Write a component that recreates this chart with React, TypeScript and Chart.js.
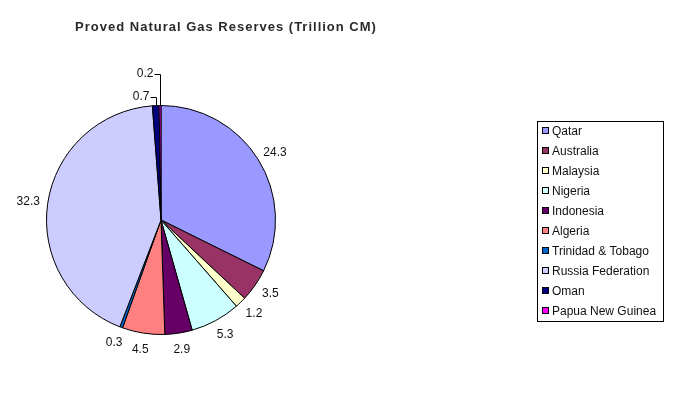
import React, { useEffect, useRef } from "react";
import { Chart, registerables } from "chart.js";

Chart.register(...registerables);

const categories = [
  "Qatar",
  "Australia",
  "Malaysia",
  "Nigeria",
  "Indonesia",
  "Algeria",
  "Trinidad & Tobago",
  "Russia Federation",
  "Oman",
  "Papua New Guinea",
];
const reserves = [24.3, 3.5, 1.2, 5.3, 2.9, 4.5, 0.3, 32.3, 0.7, 0.2];
const valueLabels = ["24.3", "3.5", "1.2", "5.3", "2.9", "4.5", "0.3", "32.3", "0.7", "0.2"];
const colors = [
  "#9999FF",
  "#993366",
  "#FFFFCC",
  "#CCFFFF",
  "#660066",
  "#FF8080",
  "#0066CC",
  "#CCCCFF",
  "#000080",
  "#FF00FF",
];
const titleText = "Proved Natural Gas Reserves (Trillion CM)";

const FONT = '"Liberation Sans", Arial, sans-serif';

const decorPlugin = {
  id: "decor",
  afterDraw(chart: any) {
    const ctx = chart.ctx as CanvasRenderingContext2D;
    const meta = chart.getDatasetMeta(0);
    ctx.save();
    // Title
    ctx.fillStyle = "#2a2a2a";
    ctx.font = `bold 13px ${FONT}`;
    (ctx as any).letterSpacing = "1px";
    ctx.textAlign = "center";
    ctx.textBaseline = "middle";
    ctx.fillText(titleText, 226, 27);
    (ctx as any).letterSpacing = "0px";

    // Data labels
    ctx.font = `12px ${FONT}`;
    ctx.fillStyle = "#111";
    let leaderLevel = 0;
    const arcs = meta.data as any[];
    const leaderIdx: number[] = [];
    arcs.forEach((arc, i) => {
      const mid = (arc.startAngle + arc.endAngle) / 2;
      let deg = ((mid + Math.PI / 2) * 180) / Math.PI;
      deg = ((deg % 360) + 360) % 360;
      if (deg > 350) leaderIdx.push(i);
    });
    arcs.forEach((arc, i) => {
      if (leaderIdx.includes(i)) return;
      const mid = (arc.startAngle + arc.endAngle) / 2;
      const dx = Math.cos(mid);
      const dy = Math.sin(mid);
      const r = arc.outerRadius + 8 + 4 * Math.max(0, dy);
      const ax = arc.x + dx * r;
      const ay = arc.y + dy * r;
      const w = ctx.measureText(valueLabels[i]).width;
      const h = 10;
      const cx = ax + (w / 2) * dx;
      const cy = ay + (h / 2) * dy;
      ctx.textAlign = "center";
      ctx.textBaseline = "middle";
      ctx.fillText(valueLabels[i], cx, cy);
    });
    leaderIdx.forEach((i) => {
      const arc = arcs[i];
      const mid = (arc.startAngle + arc.endAngle) / 2;
      const px = arc.x + Math.cos(mid) * arc.outerRadius;
      const py = arc.y + Math.sin(mid) * arc.outerRadius;
      const ly = py - 9 - 23 * leaderLevel;
      leaderLevel++;
      const ex = Math.round(px) + 0.5;
      ctx.strokeStyle = "#000";
      ctx.lineWidth = 1;
      ctx.beginPath();
      ctx.moveTo(ex, py);
      ctx.lineTo(ex, Math.round(ly) + 0.5);
      ctx.lineTo(ex - 6, Math.round(ly) + 0.5);
      ctx.stroke();
      ctx.textAlign = "right";
      ctx.textBaseline = "middle";
      ctx.fillText(valueLabels[i], ex - 7, ly);
    });

    // Legend
    ctx.strokeStyle = "#000";
    ctx.lineWidth = 1;
    ctx.strokeRect(537.5, 121.5, 126, 200);
    ctx.font = `12px ${FONT}`;
    ctx.textAlign = "left";
    ctx.textBaseline = "middle";
    categories.forEach((c, i) => {
      const y = 131 + 20 * i;
      ctx.fillStyle = colors[i];
      ctx.fillRect(542.5, y - 3.5, 6, 6);
      ctx.strokeStyle = "#000";
      ctx.strokeRect(542.5, y - 3.5, 6, 6);
      ctx.fillStyle = "#111";
      ctx.fillText(c, 552, y + 0.5);
    });
    ctx.restore();
  },
};

export default function App() {
  const ref = useRef<HTMLCanvasElement | null>(null);
  useEffect(() => {
    if (!ref.current) return;
    const chart = new Chart(ref.current, {
      type: "pie",
      data: {
        labels: categories,
        datasets: [
          {
            data: reserves,
            backgroundColor: colors,
            borderColor: "#000",
            borderWidth: 1,
          },
        ],
      },
      options: {
        animation: false,
        responsive: true,
        maintainAspectRatio: false,
        layout: { padding: { left: 46, top: 105, right: 407, bottom: 64 } },
        plugins: {
          legend: { display: false },
          tooltip: { enabled: false },
          title: { display: false },
        },
      },
      plugins: [decorPlugin],
    });
    return () => chart.destroy();
  }, []);
  return (
    <div style={{ position: "fixed", left: 0, top: 0, width: 683, height: 399, background: "#fff" }}>
      <canvas ref={ref} />
    </div>
  );
}
